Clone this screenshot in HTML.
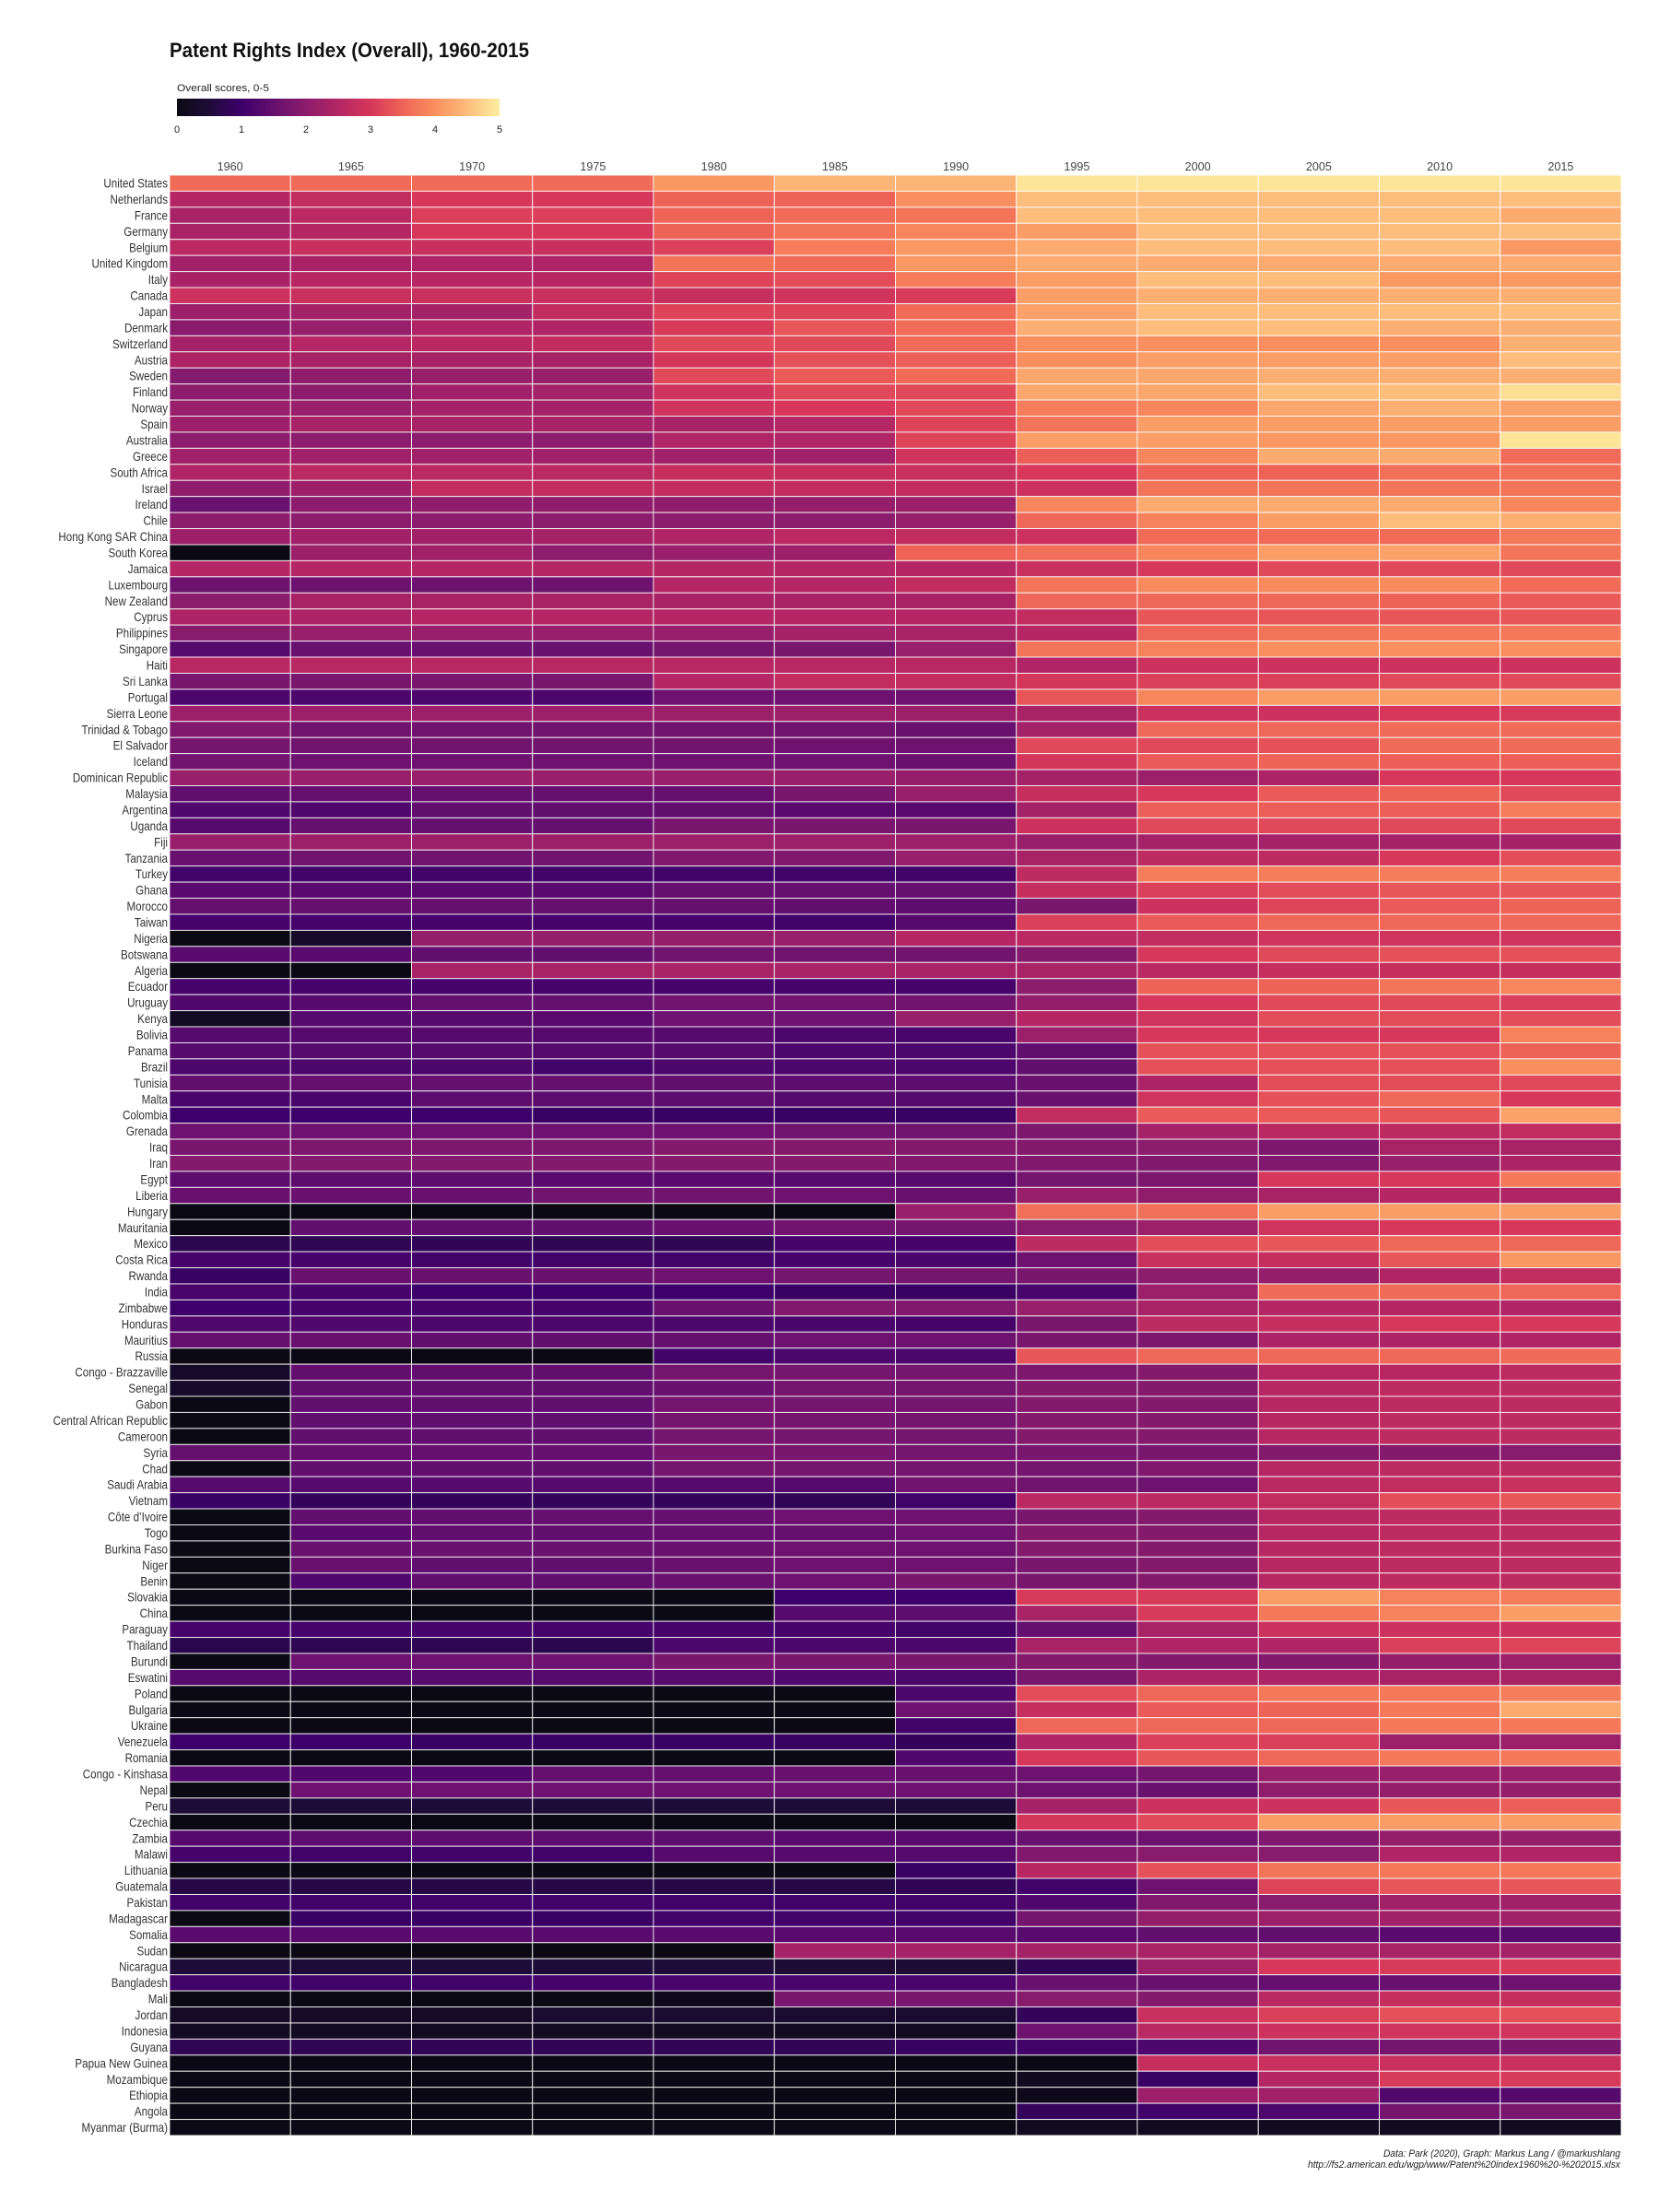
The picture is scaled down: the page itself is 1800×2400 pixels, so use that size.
<!DOCTYPE html>
<html><head><meta charset="utf-8"><style>
html,body{margin:0;padding:0;background:#fff;}
svg{display:block;font-family:"Liberation Sans",Arial,sans-serif;}
</style></head><body>
<svg id="chart" width="1800" height="2400" viewBox="0 0 1800 2400" xmlns="http://www.w3.org/2000/svg">
<text x="184" y="62" font-size="22" font-weight="bold" fill="#111" textLength="390" lengthAdjust="spacingAndGlyphs">Patent Rights Index (Overall), 1960-2015</text>
<text x="192" y="99" font-size="11" fill="#222" textLength="100" lengthAdjust="spacingAndGlyphs">Overall scores, 0-5</text>
<defs><linearGradient id="lg" x1="0" x2="1" y1="0" y2="0"></linearGradient></defs>
<rect x="192" y="107" width="350" height="19" fill="url(#lg)"/>
<g id="legendTicks"></g>
<g id="xlabels"></g>
<g id="ylabels"></g>
<g id="cells"></g>
<text x="1758" y="2340" font-size="11" font-style="italic" fill="#222" text-anchor="end" textLength="257" lengthAdjust="spacingAndGlyphs">Data: Park (2020), Graph: Markus Lang / @markushlang</text>
<text x="1758" y="2352" font-size="11" font-style="italic" fill="#222" text-anchor="end" textLength="339" lengthAdjust="spacingAndGlyphs">http://fs2.american.edu/wgp/www/Patent%20index1960%20-%202015.xlsx</text>
</svg>
<script>
const years = [1960,1965,1970,1975,1980,1985,1990,1995,2000,2005,2010,2015];
const legendTickValues = [0,1,2,3,4,5];
const countries = ["United States","Netherlands","France","Germany","Belgium","United Kingdom","Italy","Canada","Japan","Denmark","Switzerland","Austria","Sweden","Finland","Norway","Spain","Australia","Greece","South Africa","Israel","Ireland","Chile","Hong Kong SAR China","South Korea","Jamaica",
"Luxembourg","New Zealand","Cyprus","Philippines","Singapore","Haiti","Sri Lanka","Portugal","Sierra Leone","Trinidad & Tobago","El Salvador","Iceland","Dominican Republic","Malaysia","Argentina","Uganda","Fiji","Tanzania","Turkey","Ghana","Morocco","Taiwan","Nigeria","Botswana","Algeria",
"Ecuador","Uruguay","Kenya","Bolivia","Panama","Brazil","Tunisia","Malta","Colombia","Grenada","Iraq","Iran","Egypt","Liberia","Hungary","Mauritania","Mexico","Costa Rica","Rwanda","India","Zimbabwe","Honduras","Mauritius","Russia","Congo - Brazzaville",
"Senegal","Gabon","Central African Republic","Cameroon","Syria","Chad","Saudi Arabia","Vietnam","Côte d’Ivoire","Togo","Burkina Faso","Niger","Benin","Slovakia","China","Paraguay","Thailand","Burundi","Eswatini","Poland","Bulgaria","Ukraine","Venezuela","Romania","Congo - Kinshasa",
"Nepal","Peru","Czechia","Zambia","Malawi","Lithuania","Guatemala","Pakistan","Madagascar","Somalia","Sudan","Nicaragua","Bangladesh","Mali","Jordan","Indonesia","Guyana","Papua New Guinea","Mozambique","Ethiopia","Angola","Myanmar (Burma)"];
const scores = [
[3.6,3.6,3.6,3.6,4.1,4.4,4.4,4.9,4.9,4.9,4.9,4.9],
[2.5,2.7,3.0,3.0,3.5,3.5,4.0,4.5,4.5,4.5,4.5,4.5],
[2.35,2.6,3.1,3.1,3.5,3.6,3.7,4.5,4.5,4.5,4.5,4.3],
[2.35,2.5,3.0,3.0,3.5,3.7,3.9,4.15,4.5,4.5,4.5,4.5],
[2.6,2.8,2.8,2.8,3.1,3.8,4.1,4.3,4.5,4.5,4.5,4.1],
[2.25,2.35,2.4,2.4,3.7,3.6,4.1,4.3,4.3,4.3,4.3,4.3],
[2.35,2.55,2.55,2.55,3.15,3.25,3.8,4.15,4.5,4.5,4.1,4.1],
[2.85,2.8,2.8,2.8,2.75,2.9,3.05,4.15,4.35,4.35,4.35,4.35],
[2.2,2.3,2.3,2.7,3.15,3.15,3.6,4.2,4.5,4.5,4.5,4.5],
[1.95,2.15,2.45,2.45,3.05,3.35,3.6,4.35,4.5,4.5,4.35,4.35],
[2.3,2.5,2.6,2.7,3.2,3.2,3.6,4.0,4.0,4.0,4.0,4.35],
[2.4,2.35,2.35,2.35,2.95,3.3,3.45,4.0,4.15,4.15,4.15,4.5],
[1.9,2.05,2.15,2.15,3.2,3.4,3.6,4.25,4.25,4.35,4.35,4.35],
[2.0,2.0,2.25,2.3,2.9,3.2,3.2,4.25,4.25,4.5,4.5,4.85],
[2.15,2.15,2.3,2.3,2.9,3.0,3.2,3.8,3.9,4.25,4.35,4.2],
[2.2,2.35,2.35,2.35,2.35,2.5,3.15,3.7,4.15,4.15,4.15,4.15],
[2.0,2.0,2.0,2.0,2.45,2.45,3.15,4.15,4.15,4.1,4.1,4.9],
[2.25,2.25,2.25,2.25,2.25,2.25,2.9,3.45,3.9,4.3,4.3,3.6],
[2.45,2.6,2.6,2.6,2.75,2.75,2.8,3.0,3.5,3.5,3.65,3.65],
[2.05,2.2,2.7,2.7,2.7,2.7,2.7,2.85,3.7,3.7,3.7,3.7],
[1.55,2.0,2.05,2.05,2.05,2.1,2.2,3.9,4.3,4.3,4.3,3.9],
[2.0,2.0,2.0,2.0,2.0,2.0,2.15,3.55,3.85,4.15,4.5,4.35],
[2.2,2.25,2.25,2.3,2.45,2.6,2.7,2.85,3.6,3.6,3.6,3.75],
[0,2.2,2.25,2.0,2.15,2.2,3.5,3.65,3.9,4.15,4.2,3.7],
[2.5,2.5,2.5,2.5,2.5,2.5,2.5,2.8,3.0,3.2,3.2,3.2],
[1.6,1.6,1.6,1.6,2.5,2.5,2.7,3.7,3.95,3.95,3.95,3.6],
[2.0,2.35,2.35,2.35,2.35,2.35,2.35,3.55,3.55,3.55,3.5,3.4],
[2.4,2.4,2.5,2.5,2.5,2.5,2.5,2.7,3.35,3.35,3.35,3.35],
[1.95,2.15,2.15,2.15,2.15,2.3,2.35,2.5,3.55,3.7,3.75,3.75],
[1.3,1.55,1.55,1.55,1.7,1.75,2.15,3.7,3.85,4.0,4.0,4.0],
[2.55,2.55,2.55,2.55,2.55,2.55,2.55,2.45,2.85,2.85,2.85,2.85],
[1.75,1.75,1.75,1.75,2.5,2.7,2.7,2.95,3.1,3.1,3.2,3.2],
[1.2,1.2,1.2,1.2,1.6,1.6,1.6,3.35,3.9,4.15,4.15,4.15],
[2.2,2.2,2.2,2.2,2.2,2.2,2.2,2.35,2.85,2.85,3.0,3.05],
[1.85,1.65,1.65,1.65,1.65,1.65,1.55,2.3,3.55,3.55,3.6,3.6],
[1.7,1.65,1.65,1.65,1.65,1.6,1.6,3.2,3.2,3.3,3.6,3.6],
[1.65,1.6,1.6,1.6,1.6,1.6,1.55,2.95,3.4,3.5,3.45,3.45],
[2.15,2.15,2.15,2.15,2.15,2.15,2.1,2.3,2.2,2.4,3.0,3.0],
[1.45,1.5,1.5,1.5,1.5,1.75,2.15,2.75,3.0,3.4,3.5,3.2],
[1.25,1.25,1.45,1.45,1.45,1.35,1.35,2.3,3.45,3.45,3.45,3.8],
[1.3,1.5,1.5,1.5,1.75,1.75,1.75,2.85,3.2,3.2,3.2,3.2],
[2.15,2.2,2.2,2.2,2.2,2.2,2.2,2.15,2.3,2.3,2.3,2.3],
[1.55,1.65,1.65,1.65,1.85,1.85,2.15,2.35,2.65,2.65,3.0,3.25],
[1.05,1.05,1.05,1.05,1.05,1.05,1.05,2.65,3.8,3.8,3.8,3.8],
[1.35,1.35,1.35,1.35,1.5,1.5,1.5,2.75,3.1,3.25,3.35,3.35],
[1.5,1.5,1.5,1.5,1.5,1.45,1.4,1.75,2.85,3.15,3.4,3.5],
[1.1,1.1,1.1,1.1,1.1,1.05,1.3,3.1,3.4,3.55,3.55,3.55],
[0,0.3,2.1,2.1,2.1,2.15,2.5,2.6,2.7,2.9,2.9,2.9],
[1.35,1.35,1.45,1.45,1.65,1.65,1.65,1.9,3.0,3.2,3.3,3.3],
[0,0,2.35,2.35,2.35,2.35,2.35,2.35,2.6,2.75,2.75,2.75],
[1.1,1.1,1.1,1.1,1.1,1.1,1.1,2.0,3.5,3.5,3.7,3.9],
[1.25,1.3,1.5,1.5,1.65,1.65,1.65,2.1,3.0,3.2,3.2,3.1],
[0.2,1.3,1.3,1.35,1.6,1.6,2.15,2.5,2.9,3.25,3.25,3.25],
[1.3,1.3,1.3,1.3,1.3,1.2,1.15,2.2,3.0,3.0,3.0,3.85],
[1.3,1.3,1.3,1.3,1.3,1.2,1.2,1.45,3.3,3.3,3.3,3.5],
[1.2,1.2,1.2,1.05,1.2,1.2,1.2,1.45,3.3,3.3,3.3,4.0],
[1.45,1.5,1.5,1.5,1.45,1.4,1.4,1.55,2.4,3.25,3.25,3.2],
[1.15,1.15,1.4,1.4,1.4,1.3,1.3,1.55,2.9,3.3,3.55,3.0],
[1.0,1.0,1.0,0.95,0.95,0.95,0.95,2.7,3.4,3.4,3.35,4.2],
[1.6,1.6,1.6,1.6,1.6,1.65,1.65,1.8,2.3,2.6,2.65,2.7],
[1.75,1.8,1.8,1.8,1.9,1.9,1.9,1.9,2.0,1.8,2.35,2.35],
[1.9,1.9,1.9,1.9,1.9,1.9,1.85,1.85,1.85,1.85,2.15,2.4],
[1.4,1.4,1.4,1.35,1.35,1.3,1.3,1.7,1.8,3.0,3.0,3.75],
[1.55,1.55,1.55,1.65,1.65,1.6,1.55,2.15,2.05,2.35,2.5,2.45],
[0,0,0,0,0,0,2.15,3.65,3.65,4.15,4.15,4.15],
[0,1.45,1.45,1.45,1.55,1.65,1.7,1.95,2.2,2.9,3.0,3.0],
[0.7,0.75,0.8,0.75,0.75,1.1,1.1,2.65,3.25,3.35,3.55,3.55],
[1.1,1.1,1.05,1.05,1.05,1.1,1.15,1.6,2.8,2.75,3.35,4.1],
[0.95,1.55,1.55,1.55,1.6,1.7,1.7,1.75,2.0,2.1,2.45,2.7],
[1.15,1.1,1.0,1.0,1.0,0.95,0.95,1.15,2.2,3.6,3.6,3.55],
[1.0,1.1,1.1,1.1,1.55,1.85,1.85,2.15,2.35,2.5,2.5,2.45],
[1.25,1.25,1.2,1.2,1.2,1.15,1.1,1.75,2.65,2.75,3.0,3.0],
[1.5,1.55,1.45,1.45,1.5,1.6,1.6,1.75,1.8,2.4,2.4,2.45],
[0,0,0,0,1.05,1.2,1.2,3.35,3.55,3.55,3.55,3.6],
[0.3,1.45,1.45,1.45,1.7,1.7,1.7,1.8,1.9,2.55,2.55,2.65],
[0.3,1.45,1.45,1.45,1.55,1.7,1.7,1.9,1.9,2.55,2.65,2.65],
[0,1.45,1.45,1.45,1.7,1.7,1.7,1.9,1.9,2.55,2.65,2.65],
[0,1.45,1.45,1.45,1.7,1.7,1.7,1.9,1.9,2.55,2.65,2.65],
[0,1.45,1.45,1.45,1.7,1.7,1.7,1.9,1.9,2.55,2.65,2.65],
[1.5,1.5,1.5,1.5,1.75,1.75,1.7,1.75,1.75,1.9,1.9,1.95],
[0,1.45,1.45,1.45,1.7,1.7,1.7,1.7,1.85,2.55,2.65,2.65],
[1.3,1.3,1.3,1.3,1.3,1.3,1.65,1.65,1.6,2.6,2.7,2.8],
[0.95,0.85,0.85,0.85,0.85,0.8,1.05,2.6,2.6,2.7,3.25,3.35],
[0,1.45,1.45,1.5,1.5,1.6,1.6,1.75,1.9,2.55,2.65,2.65],
[0,1.35,1.45,1.45,1.5,1.5,1.6,1.9,1.9,2.55,2.65,2.65],
[0,1.55,1.55,1.55,1.55,1.6,1.6,1.9,1.9,2.55,2.65,2.65],
[0,1.55,1.45,1.45,1.55,1.6,1.6,1.75,1.9,2.55,2.65,2.65],
[0,1.25,1.45,1.45,1.55,1.6,1.75,1.75,1.9,2.55,2.65,2.65],
[0,0,0,0,0,1.0,1.0,3.05,3.05,4.15,3.85,3.8],
[0,0,0,0,0,1.3,1.4,2.35,3.05,3.75,3.85,4.15],
[1.1,1.1,1.1,1.1,1.1,1.1,1.05,1.5,2.35,2.85,2.85,2.85],
[0.7,0.75,0.75,0.7,1.2,1.2,1.2,2.35,2.45,2.45,3.1,3.15],
[0,1.6,1.6,1.6,1.75,1.75,1.75,1.9,1.9,1.9,2.1,2.2],
[1.3,1.3,1.3,1.3,1.3,1.25,1.2,1.75,2.4,2.4,2.35,2.35],
[0,0,0,0,0,0,1.2,3.25,3.55,3.75,3.75,3.8],
[0,0,0,0,0,0,1.6,2.75,3.4,3.5,3.75,4.3],
[0,0,0,0,0,0,1.05,3.55,3.55,3.55,3.75,3.75],
[1.0,1.0,0.95,0.95,0.95,0.9,0.85,2.45,3.1,3.1,2.2,2.2],
[0,0,0,0,0,0,1.25,3.0,3.35,3.55,3.75,3.75],
[1.25,1.25,1.25,1.5,1.5,1.55,1.55,1.6,1.7,2.15,2.15,2.15],
[0,1.6,1.6,1.6,1.6,1.6,1.6,1.6,1.55,2.05,2.1,2.1],
[0.5,0.5,0.5,0.5,0.5,0.5,0.5,2.3,2.85,2.85,3.35,3.45],
[0,0,0,0,0,0,0,2.95,3.2,4.15,4.15,4.15],
[1.3,1.4,1.4,1.4,1.4,1.35,1.35,1.55,1.6,1.85,2.1,2.1],
[1.1,1.05,1.05,1.05,1.3,1.3,1.3,1.85,1.95,1.95,2.45,2.45],
[0,0,0,0,0,0,0.95,2.55,3.3,3.7,3.75,3.75],
[0.65,0.65,0.65,0.65,0.65,0.65,0.8,1.05,1.6,3.15,3.35,3.35],
[1.05,1.05,1.05,1.05,1.05,1.05,1.05,1.25,1.85,1.95,2.25,2.25],
[0,0.95,0.95,0.95,1.05,1.05,1.05,1.7,2.1,2.2,2.25,2.25],
[1.35,1.35,1.35,1.35,1.35,1.35,1.35,1.35,1.45,1.45,1.35,1.3],
[0,0,0,0,0,2.3,2.3,2.3,2.35,2.3,2.35,2.3],
[0.5,0.5,0.5,0.5,0.5,0.45,0.45,0.8,2.2,3.0,3.05,3.05],
[1.05,1.05,1.05,1.1,1.15,1.15,1.15,1.55,1.55,1.5,1.55,1.6],
[0,0,0,0,0.1,1.75,1.75,1.95,1.9,2.6,2.75,2.75],
[0.25,0.25,0.25,0.4,0.4,0.35,0.35,0.85,2.8,3.1,3.3,3.3],
[0.2,0.2,0.2,0.2,0.2,0.2,0.2,1.6,2.6,2.85,2.9,2.9],
[0.75,0.75,0.8,0.8,0.8,0.8,0.9,1.05,1.2,1.65,1.7,1.75],
[0,0,0,0,0,0,0,0,2.75,2.8,2.8,2.8],
[0,0,0,0,0,0,0,0.15,0.95,2.5,3.05,3.05],
[0,0,0,0,0,0,0,0.1,2.2,2.25,1.25,1.3],
[0,0,0,0,0,0,0,0.85,1.05,1.2,1.7,1.75],
[0,0,0,0,0,0,0,0.15,0.15,0.15,0.15,0.15]
];

const NS = "http://www.w3.org/2000/svg";
const stops = [[0,"#0b0a14"],[0.5,"#1e0c38"],[1,"#3d006a"],[1.5,"#65106e"],[2,"#8c1c6c"],[2.5,"#b42664"],[3,"#d6375a"],[3.5,"#ee6358"],[4,"#f98f5e"],[4.5,"#fdbd7c"],[5,"#fcee9f"]];
function hex2rgb(h){return [1,3,5].map(i=>parseInt(h.substr(i,2),16));}
function color(v){
  v=Math.max(0,Math.min(5,v));
  for(let i=0;i<stops.length-1;i++){
    const [a,ca]=stops[i],[b,cb]=stops[i+1];
    if(v<=b){const t=(v-a)/(b-a);const A=hex2rgb(ca),B=hex2rgb(cb);
      return "rgb("+A.map((x,k)=>Math.round(x+(B[k]-x)*t)).join(",")+")";}
  }
  return stops[stops.length-1][1];
}
const X0=184, X1=1759, Y0=190, Y1=2317;
const colW=(X1-X0)/years.length, rowH=(Y1-Y0)/countries.length;
const xScale=i=>X0+i*colW;
const yScale=i=>Y0+i*rowH;
const legendX=v=>192+v/5*350;

const lg=document.getElementById('lg');
stops.forEach(s=>{const st=document.createElementNS(NS,'stop');st.setAttribute('offset',(s[0]/5*100)+'%');st.setAttribute('stop-color',s[1]);lg.appendChild(st);});

const lt=document.getElementById('legendTicks');
legendTickValues.forEach(v=>{
  const t=document.createElementNS(NS,'text');
  
  
  t.setAttribute('x',legendX(v));t.setAttribute('y',144);t.setAttribute('font-size','11');
  t.setAttribute('text-anchor','middle');t.setAttribute('fill','#222');t.textContent=v;lt.appendChild(t);
});

const xl=document.getElementById('xlabels');
years.forEach((yr,i)=>{
  const t=document.createElementNS(NS,'text');
  
  
  t.setAttribute('x',xScale(i)+colW/2);t.setAttribute('y',185);t.setAttribute('font-size','13');
  t.setAttribute('text-anchor','middle');t.setAttribute('fill','#444');
  t.setAttribute('textLength','28');t.setAttribute('lengthAdjust','spacingAndGlyphs');
  t.textContent=yr;xl.appendChild(t);
});

const yl=document.getElementById('ylabels');
countries.forEach((c,j)=>{
  const t=document.createElementNS(NS,'text');
  
  
  t.setAttribute('font-size','13.5');t.setAttribute('fill','#333');t.setAttribute('text-anchor','end');
  t.setAttribute('transform','translate(182,'+(yScale(j)+rowH/2+4.8)+') scale(0.86,1)');
  t.textContent=c;yl.appendChild(t);
});

const cg=document.getElementById('cells');
scores.forEach((row,j)=>{
  row.forEach((v,i)=>{
    const r=document.createElementNS(NS,'rect');
    
    
    r.setAttribute('x',xScale(i));r.setAttribute('y',yScale(j));
    r.setAttribute('width',colW);r.setAttribute('height',rowH);
    r.setAttribute('fill',color(v));
    r.setAttribute('stroke','#ffffff');r.setAttribute('stroke-opacity','0.85');r.setAttribute('stroke-width','1');
    cg.appendChild(r);
  });
});
</script>
</body></html>
